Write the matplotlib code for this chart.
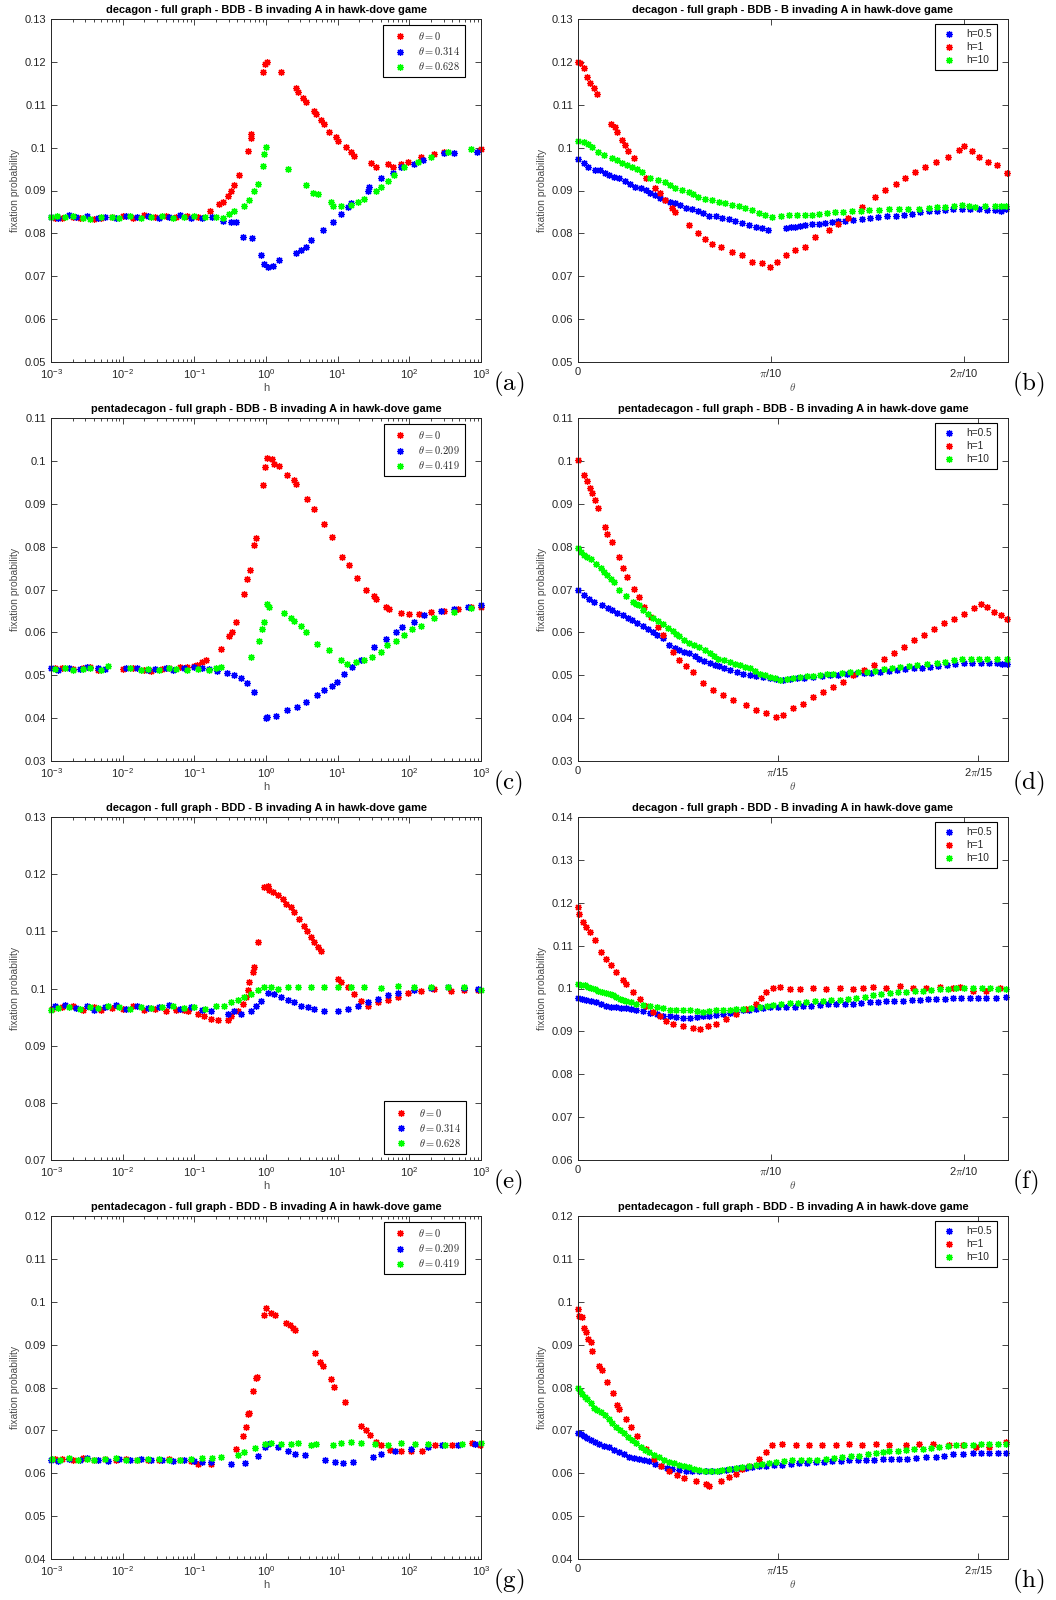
import numpy as np
import matplotlib.pyplot as plt
from matplotlib.ticker import FuncFormatter, LogLocator, NullFormatter

plt.rcParams['font.family'] = ['Liberation Sans', 'DejaVu Sans']
plt.rcParams['mathtext.fontset'] = 'cm'

# ---------------- data ----------------
# (a) decagon, BDB, fixation prob vs h  (x given as log10 h)
a_logh_red = [-2.95, -2.85, -2.7, -2.6, -2.4, -2.3, -2.15, -2.0, -1.85, -1.7, -1.55, -1.4, -1.25, -1.1, -0.95,
              -0.777, -0.65, -0.60, -0.535, -0.49, -0.44, -0.372, -0.256, -0.215, -0.205, -0.035, -0.01, 0.01,
              0.209, 0.419, 0.44, 0.512, 0.56, 0.674, 0.70, 0.767, 0.81, 0.884, 0.977, 1.0, 1.116, 1.186, 1.233,
              1.465, 1.535, 1.698, 1.767, 1.884, 1.977, 2.163, 2.35, 2.488, 3.0]
a_p_red = [.0836, .0835, .0838, .0836, .0834, .0837, .0838, .0840, .0837, .0842, .0838, .0841, .0839, .0840, .0838,
           0.0852, 0.0869, 0.0873, 0.0888, 0.0900, 0.0913, 0.0936, 0.0992, 0.1023, 0.1032, 0.1176, 0.1195, 0.1199,
           0.1177, 0.1139, 0.1129, 0.1116, 0.1106, 0.1086, 0.1079, 0.1065, 0.1055, 0.1036, 0.1024, 0.1015, 0.1001,
           0.0989, 0.0980, 0.0964, 0.0954, 0.0962, 0.0954, 0.0962, 0.0966, 0.0978, 0.0985, 0.0989, 0.0997]
a_logh_blue = [-3.0, -2.9, -2.75, -2.65, -2.5, -2.35, -2.25, -2.1, -1.95, -1.8, -1.65, -1.5, -1.35, -1.2, -1.05, -0.9,
               -0.75, -0.605, -0.49, -0.42, -0.326, -0.19, -0.07, -0.023, 0.023, 0.093, 0.186, 0.419, 0.488, 0.558,
               0.628, 0.79, 0.93, 1.047, 1.14, 1.186, 1.419, 1.44, 1.605, 1.767, 1.884, 2.07, 2.186, 2.49, 2.63, 2.95]
a_p_blue = [.0838, .0835, .0842, .0838, .0840, .0836, .0839, .0837, .0840, .0838, .0841, .0836, .0839, .0842, .0837,
            .0836, .0838, 0.0830, 0.0826, 0.0826, 0.0791, 0.0790, 0.0749, 0.0729, 0.0721, 0.0725, 0.0737, 0.0755,
            0.0762, 0.0768, 0.0785, 0.0807, 0.0826, 0.0846, 0.0861, 0.0871, 0.0900, 0.0908, 0.0929, 0.0940, 0.0954,
            0.0962, 0.0970, 0.0987, 0.0987, 0.0989]
a_logh_green = [-3.0, -2.92, -2.8, -2.7, -2.55, -2.45, -2.3, -2.15, -2.05, -1.9, -1.75, -1.6, -1.45, -1.3, -1.15,
                -1.0, -0.85, -0.7, -0.6, -0.512, -0.44, -0.302, -0.233, -0.163, -0.116, -0.047, -0.023, 0.0, 0.302,
                0.558, 0.651, 0.72, 0.907, 0.93, 1.047, 1.186, 1.279, 1.372, 1.535, 1.605, 1.698, 1.79, 1.93, 2.116,
                2.30, 2.535, 2.86]
a_p_green = [.0839, .0841, .0838, .0840, .0836, .0834, .0838, .0839, .0836, .0840, .0835, .0838, .0841, .0837, .0839,
             .0840, .0838, .0839, .0837, 0.0846, 0.0853, 0.0865, 0.0878, 0.0900, 0.0916, 0.0956, 0.0985, 0.1001,
             0.0950, 0.0913, 0.0895, 0.0891, 0.0873, 0.0865, 0.0865, 0.0867, 0.0873, 0.0881, 0.0898, 0.0908, 0.0923,
             0.0935, 0.0954, 0.0966, 0.0978, 0.0989, 0.0997]

# (b) decagon, BDB, fixation prob vs theta
b_th_blue = [0, 0.009, 0.017, 0.028, 0.036, 0.05, 0.066, 0.077, 0.093, 0.11, 0.126, 0.142, 0.158, 0.175, 0.196,
             0.213, 0.234, 0.256, 0.278, 0.30, 0.31, 0.338, 0.354, 0.37, 0.392, 0.413, 0.435, 0.462, 0.489, 0.517,
             0.544, 0.571, 0.598, 0.625, 0.652, 0.679, 0.696,
             0.044, 0.058, 0.085, 0.102, 0.118, 0.134, 0.150, 0.166, 0.186, 0.204, 0.224, 0.245, 0.267, 0.289,
             0.346, 0.362, 0.381, 0.402, 0.424, 0.448, 0.475, 0.503, 0.530, 0.557, 0.585, 0.611, 0.638, 0.665, 0.688]
b_p_blue = [0.0973, 0.0963, 0.0955, 0.0947, 0.0947, 0.0936, 0.0928, 0.0922, 0.0909, 0.0901, 0.0889, 0.0877, 0.0870,
            0.0860, 0.0852, 0.0841, 0.0837, 0.0828, 0.0819, 0.0813, 0.0807, 0.0813, 0.0815, 0.0819, 0.0823, 0.0827,
            0.0829, 0.0833, 0.0838, 0.0841, 0.0846, 0.0852, 0.0854, 0.0858, 0.0856, 0.0854, 0.0856,
            0.0940, 0.0932, 0.0915, 0.0905, 0.0895, 0.0883, 0.0873, 0.0866, 0.0856, 0.0848, 0.0840, 0.0833, 0.0824,
            0.0816, 0.0814, 0.0817, 0.0821, 0.0825, 0.0828, 0.0831, 0.0836, 0.0840, 0.0843, 0.0849, 0.0853, 0.0856,
            0.0857, 0.0855, 0.0852]
b_th_red = [0, 0.004, 0.009, 0.015, 0.02, 0.026, 0.031, 0.053, 0.061, 0.063, 0.072, 0.077, 0.082, 0.091, 0.11,
            0.126, 0.134, 0.142, 0.153, 0.158, 0.18, 0.196, 0.207, 0.218, 0.232, 0.251, 0.267, 0.283, 0.30, 0.313,
            0.324, 0.338, 0.354, 0.37, 0.386, 0.408, 0.424, 0.44, 0.462, 0.484, 0.50, 0.517, 0.533, 0.549, 0.565,
            0.582, 0.603, 0.62, 0.628, 0.641, 0.652, 0.668, 0.682, 0.698]
b_p_red = [0.1200, 0.1197, 0.1185, 0.1165, 0.1150, 0.1138, 0.1125, 0.1056, 0.1049, 0.1037, 0.1017, 0.1007, 0.0992,
           0.0975, 0.0928, 0.0905, 0.0895, 0.0877, 0.0860, 0.0850, 0.0819, 0.0800, 0.0788, 0.0776, 0.0768, 0.0757,
           0.0749, 0.0733, 0.0730, 0.0722, 0.0733, 0.0749, 0.0761, 0.0768, 0.0792, 0.0807, 0.0823, 0.0835, 0.0862,
           0.0885, 0.0901, 0.0916, 0.0930, 0.0944, 0.0955, 0.0967, 0.0979, 0.0994, 0.1003, 0.0992, 0.0979, 0.0967,
           0.0959, 0.0940]
b_th_green = [0, 0.009, 0.023, 0.042, 0.055, 0.072, 0.088, 0.104, 0.118, 0.142, 0.158, 0.18, 0.196, 0.218, 0.24,
              0.262, 0.283, 0.305, 0.316, 0.343, 0.37, 0.392, 0.419, 0.446, 0.473, 0.506, 0.538, 0.571, 0.598, 0.625,
              0.647, 0.679, 0.696,
              0.016, 0.032, 0.063, 0.080, 0.096, 0.130, 0.150, 0.169, 0.188, 0.207, 0.229, 0.251, 0.272, 0.294,
              0.330, 0.356, 0.381, 0.405, 0.432, 0.460, 0.490, 0.522, 0.555, 0.585, 0.612, 0.636, 0.663, 0.688]
b_p_green = [0.1015, 0.1012, 0.1002, 0.0982, 0.0975, 0.0965, 0.0955, 0.0944, 0.0928, 0.0920, 0.0906, 0.0897, 0.0885,
             0.0877, 0.0871, 0.0864, 0.0854, 0.0842, 0.0839, 0.0842, 0.0842, 0.0846, 0.0850, 0.0852, 0.0854, 0.0856,
             0.0856, 0.0860, 0.0862, 0.0866, 0.0862, 0.0864, 0.0864,
             0.1008, 0.0990, 0.0970, 0.0960, 0.0950, 0.0924, 0.0913, 0.0902, 0.0891, 0.0881, 0.0874, 0.0867, 0.0859,
             0.0848, 0.0841, 0.0843, 0.0844, 0.0848, 0.0851, 0.0853, 0.0855, 0.0856, 0.0858, 0.0861, 0.0864, 0.0865,
             0.0863, 0.0865]

# (c) pentadecagon, BDB, vs h
c_logh_red = [-2.95, -2.85, -2.7, -2.55, -2.45, -2.35, -2.0, -1.85, -1.7, -1.6, -1.45, -1.35, -1.2, -1.1, -1.0,
              -0.96, -0.89, -0.84, -0.634, -0.517, -0.47, -0.424, -0.308, -0.261, -0.224, -0.168, -0.144, -0.04,
              -0.019, 0.018, 0.088, 0.11, 0.18, 0.298, 0.391, 0.424, 0.577, 0.67, 0.81, 0.926, 1.066, 1.16, 1.266,
              1.401, 1.509, 1.53, 1.672, 1.718, 1.881, 1.998, 2.138, 2.3, 2.487, 2.673, 2.859, 3.0]
c_p_red = [.0516, .0518, .0514, .0517, .0519, .0513, .0514, .0517, .0512, .0511, .0515, .0518, .0519, .0520, .0522,
           0.0525, 0.0531, 0.0536, 0.0562, 0.0591, 0.0601, 0.0624, 0.0689, 0.0725, 0.0745, 0.0803, 0.0820, 0.0944,
           0.0986, 0.1007, 0.1005, 0.0993, 0.0987, 0.0968, 0.0955, 0.0947, 0.0912, 0.0887, 0.0853, 0.0822, 0.0776,
           0.0758, 0.0727, 0.0698, 0.0686, 0.0679, 0.0659, 0.0655, 0.0646, 0.0644, 0.0642, 0.0647, 0.0650, 0.0655,
           0.0659, 0.0659]
c_logh_blue = [-3.0, -2.9, -2.75, -2.6, -2.5, -2.35, -2.25, -1.95, -1.8, -1.65, -1.55, -1.4, -1.3, -1.15, -1.0, -0.9,
               -0.8, -0.68, -0.54, -0.448, -0.354, -0.261, -0.168, -0.005, 0.018, 0.135, 0.298, 0.437, 0.554, 0.717,
               0.81, 0.926, 0.996, 1.09, 1.206, 1.322, 1.509, 1.672, 1.811, 1.904, 2.068, 2.207, 2.44, 2.626, 2.813,
               3.0]
c_p_blue = [.0517, .0513, .0518, .0515, .0519, .0516, .0514, .0518, .0516, .0513, .0515, .0517, .0512, .0516, .0519,
            .0518, .0514, 0.0511, 0.0506, 0.0501, 0.0493, 0.0482, 0.0462, 0.0400, 0.0402, 0.0406, 0.0418, 0.0426,
            0.0437, 0.0453, 0.0465, 0.0476, 0.0484, 0.0504, 0.0519, 0.0536, 0.0566, 0.0585, 0.0601, 0.0612, 0.0624,
            0.0640, 0.0651, 0.0655, 0.0659, 0.0663]
c_logh_green = [-2.95, -2.8, -2.7, -2.55, -2.45, -2.3, -2.2, -1.9, -1.75, -1.65, -1.5, -1.35, -1.25, -1.1, -0.95,
                -0.8, -0.7, -0.634, -0.215, -0.098, -0.052, -0.028, 0.018, 0.041, 0.25, 0.344, 0.391, 0.484, 0.554,
                0.717, 0.88, 1.043, 1.136, 1.252, 1.369, 1.485, 1.602, 1.695, 1.811, 1.928, 2.044, 2.161, 2.347,
                2.626, 2.859]
c_p_green = [.0514, .0516, .0513, .0515, .0517, .0512, .0521, .0516, .0512, .0514, .0513, .0516, .0515, .0513, .0514,
             .0513, .0516, 0.0519, 0.0542, 0.0581, 0.0609, 0.0624, 0.0667, 0.0659, 0.0645, 0.0633, 0.0626, 0.0615,
             0.0601, 0.0574, 0.0558, 0.0535, 0.0527, 0.0531, 0.0535, 0.0542, 0.0554, 0.0570, 0.0579, 0.0593, 0.0609,
             0.0616, 0.0633, 0.0647, 0.0658]

# (d) pentadecagon, BDB, vs theta
d_th_blue = [0, 0.0063, 0.0168, 0.0256, 0.036, 0.0466, 0.057, 0.0676, 0.078, 0.0886, 0.0956, 0.106, 0.1166, 0.127,
             0.1377, 0.148, 0.1587, 0.1727, 0.1867, 0.2007, 0.2147, 0.2287, 0.246, 0.2637, 0.2813, 0.2988, 0.3163,
             0.3338, 0.3513, 0.3688, 0.3863, 0.4039, 0.4214, 0.4389, 0.4494,
             0.0115, 0.031, 0.041, 0.052, 0.062, 0.073, 0.083, 0.101, 0.111, 0.122, 0.132, 0.143, 0.153, 0.166,
             0.180, 0.194, 0.207, 0.222, 0.237, 0.255, 0.272, 0.290, 0.307, 0.325, 0.342, 0.360, 0.377, 0.395,
             0.412, 0.430, 0.444]
d_p_blue = [0.0698, 0.0687, 0.0671, 0.0664, 0.0652, 0.0640, 0.0629, 0.0615, 0.0601, 0.0586, 0.0570, 0.0559, 0.0551,
            0.0539, 0.0529, 0.0521, 0.0512, 0.0504, 0.0498, 0.0493, 0.0489, 0.0493, 0.0496, 0.0500, 0.0503, 0.0506,
            0.0507, 0.0512, 0.0516, 0.0520, 0.0524, 0.0528, 0.0529, 0.0528, 0.0526,
            0.0679, 0.0658, 0.0646, 0.0634, 0.0622, 0.0608, 0.0593, 0.0564, 0.0555, 0.0545, 0.0534, 0.0525, 0.0516,
            0.0508, 0.0501, 0.0495, 0.0491, 0.0491, 0.0494, 0.0498, 0.0501, 0.0504, 0.0506, 0.0510, 0.0514, 0.0518,
            0.0522, 0.0526, 0.0529, 0.0529, 0.0527]
d_th_red = [0, 0.0063, 0.0098, 0.0126, 0.015, 0.0179, 0.021, 0.0284, 0.0308, 0.0354, 0.0424, 0.0466, 0.0518, 0.0588,
            0.0634, 0.0694, 0.0764, 0.0834, 0.0886, 0.0991, 0.1061, 0.1131, 0.1201, 0.1306, 0.1412, 0.1517, 0.1622,
            0.1762, 0.1867, 0.1972, 0.2077, 0.2147, 0.2252, 0.2357, 0.2462, 0.2567, 0.2672, 0.2778, 0.2883, 0.2988,
            0.3093, 0.3198, 0.3303, 0.3408, 0.3513, 0.3618, 0.3723, 0.3828, 0.3933, 0.4039, 0.4144, 0.4214, 0.4284,
            0.4354, 0.4424, 0.4494]
d_p_red = [0.1001, 0.0966, 0.0953, 0.0937, 0.0924, 0.0908, 0.0889, 0.0846, 0.0830, 0.0811, 0.0776, 0.0749, 0.0730,
           0.0702, 0.0683, 0.0660, 0.0636, 0.0613, 0.0594, 0.0555, 0.0535, 0.0521, 0.0508, 0.0481, 0.0465, 0.0454,
           0.0442, 0.0430, 0.0420, 0.0413, 0.0403, 0.0407, 0.0423, 0.0434, 0.0450, 0.0462, 0.0473, 0.0485, 0.0500,
           0.0512, 0.0524, 0.0539, 0.0551, 0.0566, 0.0582, 0.0594, 0.0609, 0.0621, 0.0632, 0.0644, 0.0657, 0.0666,
           0.0660, 0.0648, 0.0640, 0.0632]
d_th_green = [0, 0.0063, 0.0133, 0.0238, 0.0308, 0.0378, 0.0431, 0.0571, 0.0641, 0.0729, 0.0781, 0.0886, 0.0991,
              0.1061, 0.1166, 0.1271, 0.1377, 0.1464, 0.1587, 0.1692, 0.1797, 0.1902, 0.2007, 0.2112, 0.2252, 0.2392,
              0.2532, 0.2672, 0.2848, 0.3023, 0.3198, 0.3373, 0.3548, 0.3758, 0.3933, 0.4109, 0.4284, 0.4494,
              0.0031, 0.0098, 0.0186, 0.0273, 0.0343, 0.0501, 0.0606, 0.0685, 0.0834, 0.0939, 0.1026, 0.1114,
              0.1219, 0.1324, 0.1420, 0.1526, 0.1640, 0.1745, 0.1850, 0.1955, 0.2060, 0.2182, 0.2322, 0.2462,
              0.2602, 0.2760, 0.2935, 0.3110, 0.3285, 0.3460, 0.3653, 0.3845, 0.4021, 0.4196, 0.4389]
d_p_green = [0.0796, 0.0780, 0.0772, 0.0749, 0.0733, 0.0718, 0.0698, 0.0671, 0.0663, 0.0644, 0.0634, 0.0619, 0.0604,
             0.0591, 0.0576, 0.0565, 0.0551, 0.0539, 0.0531, 0.0524, 0.0516, 0.0504, 0.0496, 0.0490, 0.0494, 0.0498,
             0.0500, 0.0504, 0.0507, 0.0508, 0.0514, 0.0520, 0.0524, 0.0529, 0.0535, 0.0539, 0.0539, 0.0538,
             0.0788, 0.0775, 0.0760, 0.0741, 0.0725, 0.0685, 0.0667, 0.0653, 0.0626, 0.0611, 0.0597, 0.0583,
             0.0570, 0.0558, 0.0545, 0.0535, 0.0527, 0.0520, 0.0510, 0.0500, 0.0493, 0.0492, 0.0496, 0.0499,
             0.0502, 0.0505, 0.0507, 0.0511, 0.0517, 0.0522, 0.0526, 0.0532, 0.0537, 0.0539, 0.0539]

# (e) decagon, BDD, vs h
e_logh_red = [-2.98, -2.85, -2.7, -2.55, -2.4, -2.3, -2.15, -2.0, -1.85, -1.7, -1.55, -1.4, -1.25, -1.15,
              -1.093, -0.953, -0.86, -0.767, -0.674, -0.535, -0.488, -0.395, -0.326, -0.279, -0.256, -0.233, -0.186,
              -0.163, -0.116, -0.023, 0.023, 0.047, 0.093, 0.163, 0.233, 0.279, 0.349, 0.395, 0.465, 0.535, 0.572,
              0.628, 0.674, 0.721, 0.767, 1.0, 1.047, 1.14, 1.233, 1.326, 1.419, 1.558, 1.698, 1.837, 1.977, 2.163,
              2.349, 2.58, 2.767, 2.953]
e_p_red = [.0965, .0967, .0970, .0963, .0968, .0962, .0966, .0964, .0969, .0963, .0965, .0961, .0962, .0963,
           0.0961, 0.0956, 0.0952, 0.0947, 0.0945, 0.0945, 0.0952, 0.0961, 0.0973, 0.0985, 0.0997, 0.1011, 0.1028,
           0.1038, 0.1081, 0.1177, 0.1180, 0.1173, 0.1169, 0.1163, 0.1157, 0.1148, 0.1142, 0.1134, 0.1122, 0.1110,
           0.1101, 0.1090, 0.1081, 0.1073, 0.1065, 0.1017, 0.1011, 0.1002, 0.0990, 0.0979, 0.0970, 0.0976, 0.0980,
           0.0985, 0.0993, 0.0995, 0.0999, 0.0996, 0.0997, 0.0997]
e_logh_blue = [-2.95, -2.8, -2.65, -2.5, -2.4, -2.25, -2.1, -1.95, -1.8, -1.65, -1.5, -1.35, -1.2, -1.05, -0.9,
               -0.767, -0.535, -0.442, -0.349, -0.209, -0.14, -0.07, 0.023, 0.116, 0.209, 0.302, 0.395, 0.488, 0.581,
               0.674, 0.814, 1.0, 1.14, 1.279, 1.419, 1.558, 1.698, 1.837, 2.07, 2.302, 2.535, 2.767, 2.953]
e_p_blue = [.0969, .0971, .0966, .0970, .0962, .0968, .0971, .0964, .0970, .0966, .0968, .0972, .0965, .0967, .0963,
            0.0961, 0.0955, 0.0961, 0.0956, 0.0961, 0.0970, 0.0979, 0.0993, 0.0990, 0.0986, 0.0980, 0.0976, 0.0970,
            0.0967, 0.0964, 0.0961, 0.0960, 0.0964, 0.0970, 0.0976, 0.0982, 0.0989, 0.0993, 0.0997, 0.1001, 0.1003,
            0.1001, 0.0999]
e_logh_green = [-3.0, -2.9, -2.75, -2.6, -2.45, -2.35, -2.2, -2.05, -1.9, -1.75, -1.6, -1.45, -1.3, -1.15, -1.0,
                -0.85, -0.7, -0.581, -0.488, -0.395, -0.302, -0.209, -0.116, -0.023, 0.07, 0.163, 0.302, 0.442, 0.628,
                0.814, 1.0, 1.186, 1.372, 1.605, 1.837, 2.07, 2.302, 2.535, 2.767, 3.0]
e_p_green = [.0963, .0966, .0967, .0965, .0968, .0966, .0970, .0967, .0965, .0968, .0966, .0967, .0969, .0966, .0968,
             .0965, .0969, 0.0970, 0.0976, 0.0980, 0.0985, 0.0990, 0.0997, 0.1002, 0.1003, 0.0999, 0.1002, 0.1003,
             0.1002, 0.1003, 0.1002, 0.1002, 0.1002, 0.1001, 0.1005, 0.1002, 0.1002, 0.1002, 0.1002, 0.0997]

# (f) decagon, BDD, vs theta
f_th_blue = [0, 0.0136, 0.0298, 0.0461, 0.0624, 0.0787, 0.095, 0.1167, 0.1384, 0.1601, 0.1818, 0.2035, 0.2252,
             0.2469, 0.2686, 0.2903, 0.312, 0.3391, 0.3662, 0.3934, 0.4205, 0.4476, 0.4748, 0.5019, 0.529, 0.5562,
             0.5833, 0.6104, 0.6375, 0.6647, 0.6972,
             0.007, 0.021, 0.038, 0.054, 0.070, 0.087, 0.106, 0.128, 0.149, 0.171, 0.193, 0.214, 0.236, 0.258,
             0.279, 0.301, 0.326, 0.353, 0.380, 0.407, 0.434, 0.461, 0.488, 0.515, 0.543, 0.570, 0.597, 0.624,
             0.651, 0.681]
f_p_blue = [0.0977, 0.0974, 0.0968, 0.0960, 0.0956, 0.0954, 0.0951, 0.0943, 0.0937, 0.0933, 0.0931, 0.0935, 0.0939,
            0.0943, 0.0949, 0.0953, 0.0956, 0.0956, 0.0959, 0.0962, 0.0964, 0.0964, 0.0968, 0.0970, 0.0972, 0.0974,
            0.0976, 0.0977, 0.0977, 0.0977, 0.0980,
            0.0976, 0.0971, 0.0964, 0.0958, 0.0955, 0.0952, 0.0947, 0.0940, 0.0935, 0.0932, 0.0933, 0.0937, 0.0941,
            0.0946, 0.0951, 0.0955, 0.0956, 0.0957, 0.0960, 0.0963, 0.0964, 0.0966, 0.0969, 0.0971, 0.0973, 0.0975,
            0.0976, 0.0977, 0.0977, 0.0978]
f_th_red = [0, 0.001, 0.0081, 0.0136, 0.019, 0.0271, 0.038, 0.0461, 0.0543, 0.0624, 0.0733, 0.0787, 0.0895, 0.1004,
            0.1112, 0.1221, 0.1329, 0.1438, 0.1546, 0.1709, 0.1872, 0.198, 0.2116, 0.2252, 0.2415, 0.2577, 0.274,
            0.2903, 0.2984, 0.3066, 0.3174, 0.3283, 0.3445, 0.3608, 0.3825, 0.4042, 0.4259, 0.4476, 0.4639, 0.4802,
            0.5019, 0.5236, 0.5453, 0.567, 0.5887, 0.6104, 0.6213, 0.643, 0.6647, 0.6864]
f_p_red = [0.1190, 0.1174, 0.1155, 0.1143, 0.1132, 0.1112, 0.1086, 0.1069, 0.1054, 0.1038, 0.1019, 0.1011, 0.0991,
           0.0976, 0.0960, 0.0946, 0.0937, 0.0925, 0.0917, 0.0912, 0.0907, 0.0906, 0.0912, 0.0917, 0.0929, 0.0941,
           0.0953, 0.0964, 0.0977, 0.0993, 0.1001, 0.1003, 0.0999, 0.0999, 0.1001, 0.0998, 0.1001, 0.0999, 0.1001,
           0.1003, 0.1001, 0.1005, 0.1001, 0.1001, 0.1003, 0.1001, 0.1003, 0.0995, 0.0995, 0.1001]
f_th_green = [0, 0.0109, 0.0217, 0.0326, 0.0461, 0.057, 0.0678, 0.0787, 0.095, 0.1167, 0.1384, 0.1601, 0.1818,
              0.2035, 0.2252, 0.2469, 0.2686, 0.2957, 0.3174, 0.3445, 0.3717, 0.3988, 0.4259, 0.4531, 0.4802, 0.5073,
              0.5345, 0.5616, 0.5887, 0.6158, 0.643, 0.6701, 0.6972,
              0.005, 0.016, 0.027, 0.039, 0.052, 0.062, 0.073, 0.087, 0.106, 0.128, 0.149, 0.171, 0.193, 0.214,
              0.236, 0.258, 0.282, 0.307, 0.331, 0.358, 0.385, 0.412, 0.439, 0.467, 0.494, 0.521, 0.548, 0.575,
              0.602, 0.629, 0.657, 0.684]
f_p_green = [0.1011, 0.1007, 0.1001, 0.0995, 0.0990, 0.0985, 0.0976, 0.0972, 0.0964, 0.0959, 0.0954, 0.0949, 0.0949,
             0.0946, 0.0949, 0.0951, 0.0953, 0.0956, 0.0962, 0.0967, 0.0968, 0.0972, 0.0974, 0.0977, 0.0984, 0.0990,
             0.0993, 0.0995, 0.0998, 0.1001, 0.1001, 0.1001, 0.0998,
             0.1009, 0.1004, 0.0998, 0.0992, 0.0987, 0.0980, 0.0974, 0.0968, 0.0961, 0.0956, 0.0951, 0.0949, 0.0948,
             0.0947, 0.0950, 0.0952, 0.0954, 0.0959, 0.0964, 0.0967, 0.0970, 0.0973, 0.0975, 0.0980, 0.0987, 0.0991,
             0.0994, 0.0996, 0.1000, 0.1001, 0.1001, 0.1000]

# (g) pentadecagon, BDD, vs h
g_logh_red = [-2.95, -2.85, -2.7, -2.55, -2.4, -2.25, -2.1, -1.95, -1.8, -1.65, -1.5, -1.35, -1.2, -1.05,
              -0.95, -0.764, -0.415, -0.322, -0.275, -0.252, -0.235, -0.182, -0.136, -0.12, -0.033, 0.004, 0.065,
              0.12, 0.284, 0.33, 0.377, 0.41, 0.689, 0.749, 0.796, 0.912, 0.95, 1.099, 1.332, 1.401, 1.448, 1.541,
              1.611, 1.727, 1.89, 2.03, 2.17, 2.356, 2.589, 2.869, 2.985]
g_p_red = [.0634, .0633, .0631, .0635, .0632, .0633, .0630, .0634, .0631, .0632, .0630, .0633, .0631, .0628,
           0.0622, 0.0622, 0.0657, 0.0686, 0.0707, 0.0739, 0.0740, 0.0791, 0.0822, 0.0824, 0.0968, 0.0986, 0.0974,
           0.0968, 0.0951, 0.0945, 0.0939, 0.0935, 0.0880, 0.0859, 0.0851, 0.0819, 0.0802, 0.0767, 0.0711, 0.0700,
           0.0689, 0.0674, 0.0665, 0.0655, 0.0651, 0.0651, 0.0653, 0.0665, 0.0665, 0.0671, 0.0666]
g_logh_blue = [-3.0, -2.9, -2.75, -2.6, -2.5, -2.35, -2.2, -2.05, -1.9, -1.75, -1.6, -1.45, -1.3, -1.15, -1.0, -0.9,
               -0.764, -0.485, -0.3, -0.112, -0.019, 0.027, 0.167, 0.307, 0.4, 0.54, 0.819, 0.959, 1.075, 1.215,
               1.494, 1.611, 1.797, 2.03, 2.263, 2.45, 2.682, 2.915]
g_p_blue = [.0631, .0629, .0633, .0630, .0636, .0632, .0629, .0634, .0631, .0633, .0630, .0632, .0628, .0631, .0629,
            .0627, 0.0626, 0.0622, 0.0624, 0.0640, 0.0661, 0.0669, 0.0661, 0.0653, 0.0645, 0.0643, 0.0632, 0.0626,
            0.0624, 0.0627, 0.0637, 0.0645, 0.0653, 0.0657, 0.0661, 0.0666, 0.0666, 0.0669]
g_logh_green = [-2.98, -2.88, -2.75, -2.62, -2.5, -2.4, -2.25, -2.1, -1.95, -1.8, -1.65, -1.5, -1.35, -1.2, -1.05,
                -0.9, -0.75, -0.625, -0.392, -0.308, -0.159, -0.019, 0.074, 0.214, 0.354, 0.447, 0.633, 0.703, 0.936,
                1.052, 1.192, 1.332, 1.518, 1.704, 1.89, 2.077, 2.263, 2.496, 2.729, 3.0]
g_p_green = [.0634, .0632, .0635, .0630, .0633, .0632, .0634, .0635, .0631, .0630, .0633, .0634, .0632, .0631, .0634,
             .0636, .0635, 0.0637, 0.0643, 0.0649, 0.0658, 0.0669, 0.0671, 0.0669, 0.0669, 0.0671, 0.0666, 0.0669,
             0.0666, 0.0671, 0.0672, 0.0671, 0.0669, 0.0666, 0.0671, 0.0669, 0.0669, 0.0666, 0.0669, 0.0671]

# (h) pentadecagon, BDD, vs theta
h_th_blue = [0, 0.0063, 0.0133, 0.022, 0.0325, 0.0429, 0.0534, 0.0639, 0.0743, 0.0866, 0.0988, 0.1127, 0.1267,
             0.1407, 0.1546, 0.1686, 0.1825, 0.1965, 0.214, 0.2314, 0.2489, 0.2663, 0.2838, 0.3012, 0.3187, 0.3361,
             0.3536, 0.3745, 0.392, 0.4129, 0.4304, 0.4478,
             0.0028, 0.0098, 0.0177, 0.0272, 0.0377, 0.0481, 0.0586, 0.0691, 0.0805, 0.0927, 0.1058, 0.1197,
             0.1337, 0.1476, 0.1616, 0.1755, 0.1895, 0.2052, 0.2227, 0.2401, 0.2576, 0.2750, 0.2925, 0.3099,
             0.3274, 0.3448, 0.3640, 0.3832, 0.4024, 0.4216, 0.4391]
h_p_blue = [0.0693, 0.0688, 0.0678, 0.0668, 0.0661, 0.0649, 0.0639, 0.0633, 0.0628, 0.0616, 0.0610, 0.0606, 0.0606,
            0.0605, 0.0608, 0.0612, 0.0614, 0.0618, 0.0620, 0.0623, 0.0626, 0.0628, 0.0630, 0.0631, 0.0633, 0.0633,
            0.0636, 0.0639, 0.0644, 0.0647, 0.0647, 0.0647,
            0.0691, 0.0683, 0.0673, 0.0664, 0.0655, 0.0644, 0.0636, 0.0630, 0.0622, 0.0613, 0.0608, 0.0606,
            0.0605, 0.0606, 0.0610, 0.0613, 0.0616, 0.0619, 0.0621, 0.0624, 0.0627, 0.0629, 0.0630, 0.0632,
            0.0633, 0.0634, 0.0637, 0.0641, 0.0645, 0.0647, 0.0647]
h_th_red = [0, 0.001, 0.0045, 0.0063, 0.0087, 0.0108, 0.0133, 0.015, 0.022, 0.0248, 0.0307, 0.037, 0.0405, 0.0429,
            0.0499, 0.0551, 0.0621, 0.0709, 0.0796, 0.0866, 0.0953, 0.104, 0.111, 0.1232, 0.1337, 0.1372, 0.1494,
            0.1581, 0.1651, 0.1721, 0.1791, 0.1895, 0.1965, 0.2035, 0.214, 0.2279, 0.2419, 0.2558, 0.2698, 0.2838,
            0.2977, 0.3117, 0.3257, 0.3431, 0.3571, 0.371, 0.3885, 0.4024, 0.4164, 0.4304, 0.4478]
h_p_red = [0.0984, 0.0966, 0.0964, 0.0939, 0.0929, 0.0914, 0.0906, 0.0886, 0.0851, 0.0840, 0.0812, 0.0787, 0.0760,
           0.0750, 0.0727, 0.0709, 0.0688, 0.0657, 0.0633, 0.0618, 0.0606, 0.0595, 0.0589, 0.0581, 0.0574, 0.0571,
           0.0581, 0.0591, 0.0598, 0.0610, 0.0618, 0.0633, 0.0649, 0.0665, 0.0669, 0.0667, 0.0665, 0.0667, 0.0665,
           0.0669, 0.0667, 0.0669, 0.0665, 0.0667, 0.0669, 0.0669, 0.0665, 0.0665, 0.0661, 0.0661, 0.0672]
h_th_green = [0, 0.0045, 0.0098, 0.0168, 0.0237, 0.0325, 0.0394, 0.0482, 0.0569, 0.0656, 0.0743, 0.0848, 0.0953,
              0.1058, 0.1162, 0.1267, 0.1389, 0.1511, 0.1651, 0.1791, 0.193, 0.207, 0.2244, 0.2419, 0.2593, 0.2768,
              0.2942, 0.3117, 0.3257, 0.3431, 0.3606, 0.378, 0.3955, 0.4129, 0.4304, 0.4478,
              0.0022, 0.0072, 0.0133, 0.0202, 0.0281, 0.0359, 0.0438, 0.0525, 0.0612, 0.0700, 0.0796, 0.0900,
              0.1005, 0.1110, 0.1215, 0.1328, 0.1450, 0.1581, 0.1721, 0.1860, 0.2000, 0.2157, 0.2332, 0.2506,
              0.2681, 0.2855, 0.3030, 0.3187, 0.3344, 0.3518, 0.3693, 0.3868, 0.4042, 0.4217, 0.4391]
h_p_green = [0.0799, 0.0784, 0.0774, 0.0753, 0.0742, 0.0727, 0.0709, 0.0693, 0.0678, 0.0661, 0.0649, 0.0637, 0.0626,
             0.0620, 0.0614, 0.0608, 0.0605, 0.0608, 0.0612, 0.0618, 0.0622, 0.0626, 0.0630, 0.0631, 0.0633, 0.0639,
             0.0641, 0.0647, 0.0653, 0.0654, 0.0657, 0.0661, 0.0665, 0.0667, 0.0669, 0.0669,
             0.0792, 0.0779, 0.0764, 0.0748, 0.0735, 0.0718, 0.0701, 0.0685, 0.0670, 0.0655, 0.0643, 0.0631,
             0.0623, 0.0617, 0.0611, 0.0606, 0.0606, 0.0610, 0.0615, 0.0620, 0.0624, 0.0628, 0.0630, 0.0632,
             0.0636, 0.0640, 0.0644, 0.0650, 0.0653, 0.0656, 0.0659, 0.0663, 0.0666, 0.0668, 0.0669]

titles = ['decagon - full graph - BDB - B invading A in hawk-dove game',
          'decagon - full graph - BDB - B invading A in hawk-dove game',
          'pentadecagon - full graph - BDB - B invading A in hawk-dove game',
          'pentadecagon - full graph - BDB - B invading A in hawk-dove game',
          'decagon - full graph - BDD - B invading A in hawk-dove game',
          'decagon - full graph - BDD - B invading A in hawk-dove game',
          'pentadecagon - full graph - BDD - B invading A in hawk-dove game',
          'pentadecagon - full graph - BDD - B invading A in hawk-dove game']
ylims = [(0.05, 0.13), (0.05, 0.13), (0.03, 0.11), (0.03, 0.11),
         (0.07, 0.13), (0.06, 0.14), (0.04, 0.12), (0.04, 0.12)]
theta_labels_10 = [r'$\theta = 0$', r'$\theta = 0.314$', r'$\theta = 0.628$']
theta_labels_15 = [r'$\theta = 0$', r'$\theta = 0.209$', r'$\theta = 0.419$']
h_labels = ['h=0.5', 'h=1', 'h=10']
panel_tags = ['(a)', '(b)', '(c)', '(d)', '(e)', '(f)', '(g)', '(h)']

# ---------------- drawing ----------------
W, H = 1056, 1600
fig = plt.figure(figsize=(W / 100, H / 100), dpi=100)

col_left = [51, 578]
row_top = [19, 418, 817, 1216]
ax_w, ax_h = 430, 343

STAR = (8, 2, 0)
tick_col = '0.15'

plt.rcParams['legend.numpoints'] = 1
plt.rcParams['legend.fancybox'] = False
plt.rcParams['legend.framealpha'] = 1
plt.rcParams['legend.handletextpad'] = 0.6
plt.rcParams['legend.labelspacing'] = 0.3
plt.rcParams['legend.borderpad'] = 0.5


def finish_legend(leg, size):
    fr = leg.get_frame()
    fr.set_edgecolor('black')
    fr.set_linewidth(0.8)
    for t in leg.get_texts():
        t.set_fontsize(size)
        t.set_color('0.15')


def style_axes(ax, title, ylim):
    ax.set_ylim(*ylim)
    ax.set_yticks(np.arange(ylim[0], ylim[1] + 1e-9, 0.01))
    ax.yaxis.set_major_formatter(FuncFormatter(lambda v, p: f'{round(v, 3):g}'))
    ax.tick_params(which='both', direction='in', top=True, right=True, colors=tick_col,
                   labelsize=8, width=0.6)
    ax.tick_params(which='major', length=4)
    ax.tick_params(which='minor', length=2)
    for s in ax.spines.values():
        s.set_linewidth(0.7)
        s.set_color('0.15')
    ax.set_title(title, fontsize=7.9, fontweight='bold', pad=4)
    ax.set_ylabel('fixation probability', fontsize=7.5, color='0.3', labelpad=3)


def draw_h_panel(ax, xs, ys, labels, title, ylim, legend_lower=False):
    colors = ['red', 'blue', (0, 1, 0)]
    for x, y, c, lab in zip(xs, ys, colors, labels):
        ax.plot(10 ** np.array(x), y, ls='none', marker=STAR, ms=5, mew=0.9,
                color=c, label=lab, clip_on=False)
    ax.set_xscale('log')
    ax.set_xlim(1e-3, 1e3)
    ax.set_xticks([1e-3, 1e-2, 1e-1, 1e0, 1e1, 1e2, 1e3])
    ax.xaxis.set_minor_locator(LogLocator(base=10, subs=np.arange(2, 10), numticks=20))
    ax.xaxis.set_minor_formatter(NullFormatter())
    style_axes(ax, title, ylim)
    ax.set_xlabel('h', fontsize=8, color='0.3', labelpad=2)
    if legend_lower:
        leg = ax.legend(loc='lower right', bbox_to_anchor=(0.965, 0.0175), borderaxespad=0,
                        fontsize=7.5, handlelength=2.2)
    else:
        leg = ax.legend(loc='upper right', bbox_to_anchor=(0.963, 0.983), borderaxespad=0,
                        fontsize=7.5, handlelength=2.2)
    finish_legend(leg, 7.5)


def draw_theta_panel(ax, xs, ys, title, ylim, denom):
    colors = ['blue', 'red', (0, 1, 0)]
    for x, y, c, lab in zip(xs, ys, colors, h_labels):
        ax.plot(x, y, ls='none', marker=STAR, ms=5, mew=0.9, color=c, label=lab, clip_on=False)
    if denom == 10:
        ax.set_xlim(0, 0.7)
    else:
        ax.set_xlim(0, 0.45)
    ax.set_xticks([0, np.pi / denom, 2 * np.pi / denom])
    ax.set_xticklabels(['0', r'$\pi$/%d' % denom, r'2$\pi$/%d' % denom])
    style_axes(ax, title, ylim)
    ax.set_xlabel(r'$\theta$', fontsize=8, color='0.3', labelpad=2)
    leg = ax.legend(loc='upper right', bbox_to_anchor=(0.974, 0.985), borderaxespad=0,
                    fontsize=7.3, handlelength=1.9, handletextpad=0.7)
    finish_legend(leg, 7.3)


axes = []
for r in range(4):
    for c in range(2):
        x0 = col_left[c] / W
        y0 = 1 - (row_top[r] + ax_h) / H
        axes.append(fig.add_axes([x0, y0, ax_w / W, ax_h / H]))

draw_h_panel(axes[0], [a_logh_red, a_logh_blue, a_logh_green], [a_p_red, a_p_blue, a_p_green],
             theta_labels_10, titles[0], ylims[0])
draw_theta_panel(axes[1], [b_th_blue, b_th_red, b_th_green], [b_p_blue, b_p_red, b_p_green],
                 titles[1], ylims[1], 10)
draw_h_panel(axes[2], [c_logh_red, c_logh_blue, c_logh_green], [c_p_red, c_p_blue, c_p_green],
             theta_labels_15, titles[2], ylims[2])
draw_theta_panel(axes[3], [d_th_blue, d_th_red, d_th_green], [d_p_blue, d_p_red, d_p_green],
                 titles[3], ylims[3], 15)
draw_h_panel(axes[4], [e_logh_red, e_logh_blue, e_logh_green], [e_p_red, e_p_blue, e_p_green],
             theta_labels_10, titles[4], ylims[4], legend_lower=True)
draw_theta_panel(axes[5], [f_th_blue, f_th_red, f_th_green], [f_p_blue, f_p_red, f_p_green],
                 titles[5], ylims[5], 10)
draw_h_panel(axes[6], [g_logh_red, g_logh_blue, g_logh_green], [g_p_red, g_p_blue, g_p_green],
             theta_labels_15, titles[6], ylims[6])
draw_theta_panel(axes[7], [h_th_blue, h_th_red, h_th_green], [h_p_blue, h_p_red, h_p_green],
                 titles[7], ylims[7], 15)

# panel tags (a)-(h) in serif, just right of and below each axes
for i, tag in enumerate(panel_tags):
    r, c = divmod(i, 2)
    right_px = col_left[c] + ax_w + (12 if c == 0 else 4)
    base_px = row_top[r] + ax_h + 28
    fig.text(right_px / W, 1 - base_px / H, r'$\mathrm{%s}$' % tag, fontsize=18,
             ha='left', va='baseline')

fig.savefig('out.png', dpi=100)
